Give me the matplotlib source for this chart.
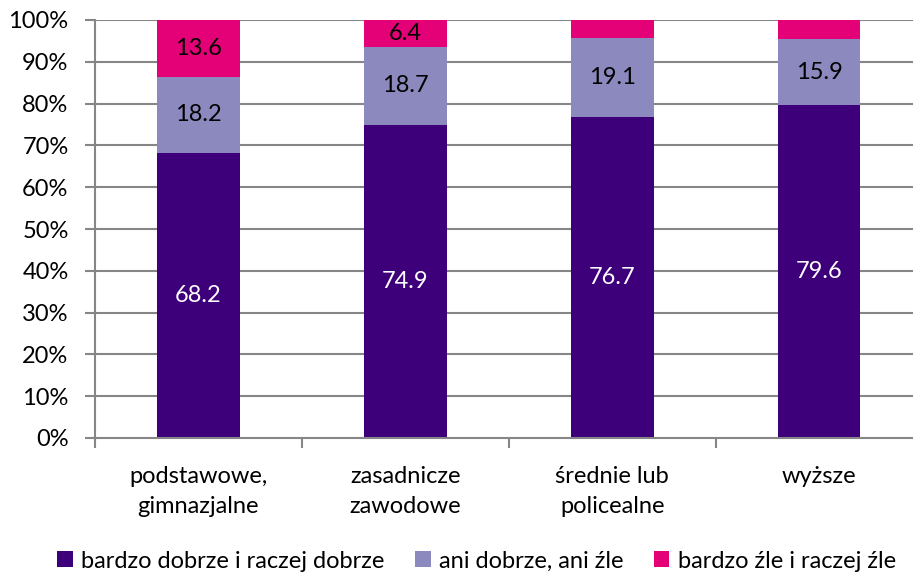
import matplotlib
matplotlib.use('Agg')
import matplotlib.pyplot as plt
import numpy as np

plt.rcParams['font.family'] = ['Lato', 'DejaVu Sans']

categories = ['podstawowe,\ngimnazjalne', 'zasadnicze\nzawodowe', 'średnie lub\npolicealne', 'wyższe']
good = [68.2, 74.9, 76.7, 79.6]
neutral = [18.2, 18.7, 19.1, 15.9]
bad = [13.6, 6.4, 4.2, 4.5]
series_names = ['bardzo dobrze i raczej dobrze', 'ani dobrze, ani źle', 'bardzo źle i raczej źle']
colors = ['#3D007A', '#8C89BE', '#E40076']
show_bad_label = [True, True, False, False]

fs = 17
fig = plt.figure(figsize=(9.13, 5.74), dpi=100)
ax = fig.add_axes([95 / 913, 1 - 438 / 574, 1 - 95 / 913, 418 / 574])

x = np.arange(len(categories))
w = 0.40
grid_c = '#868686'

for yv in np.arange(10, 101, 10):
    ax.axhline(yv, color=grid_c, linewidth=1.5, zorder=0)

b1 = ax.bar(x, good, w, color=colors[0], zorder=2, label=series_names[0])
b2 = ax.bar(x, neutral, w, bottom=good, color=colors[1], zorder=2, label=series_names[1])
bottom3 = np.array(good) + np.array(neutral)
b3 = ax.bar(x, bad, w, bottom=bottom3, color=colors[2], zorder=2, label=series_names[2])

for i in range(len(categories)):
    ax.text(x[i], good[i] / 2, f'{good[i]:.1f}', ha='center', va='center', color='white', fontsize=fs)
    ax.text(x[i], good[i] + neutral[i] / 2, f'{neutral[i]:.1f}', ha='center', va='center', color='black', fontsize=fs)
    if show_bad_label[i]:
        ax.text(x[i], bottom3[i] + bad[i] / 2, f'{bad[i]:.1f}', ha='center', va='center', color='black', fontsize=fs)

ax.set_xlim(-0.5, 3.454)
ax.set_ylim(0, 100)
ax.set_yticks(np.arange(0, 101, 10))
ax.set_yticklabels([f'{v}%' for v in range(0, 101, 10)], fontsize=fs)

ax.set_xticks([-0.5, 0.5, 1.5, 2.5])
ax.set_xticklabels([])
ax.set_xticks(x, minor=True)
ax.set_xticklabels(categories, minor=True, fontsize=fs, linespacing=1.55)
ax.tick_params(axis='x', which='minor', length=0, pad=20)
ax.tick_params(axis='x', which='major', length=7, color=grid_c, width=1.5, direction='out')
ax.tick_params(axis='y', length=7, color=grid_c, width=1.5, pad=12)

for s in ['top', 'right']:
    ax.spines[s].set_visible(False)
for s in ['left', 'bottom']:
    ax.spines[s].set_color(grid_c)
    ax.spines[s].set_linewidth(1.5)

fig.legend(handles=[b1, b2, b3], loc='center', bbox_to_anchor=(0.522, 1 - 561 / 574), ncol=3,
           frameon=False, fontsize=fs, handlelength=0.65, handleheight=0.65, handletextpad=0.35,
           columnspacing=1.3)

fig.savefig('out.png', dpi=100)
